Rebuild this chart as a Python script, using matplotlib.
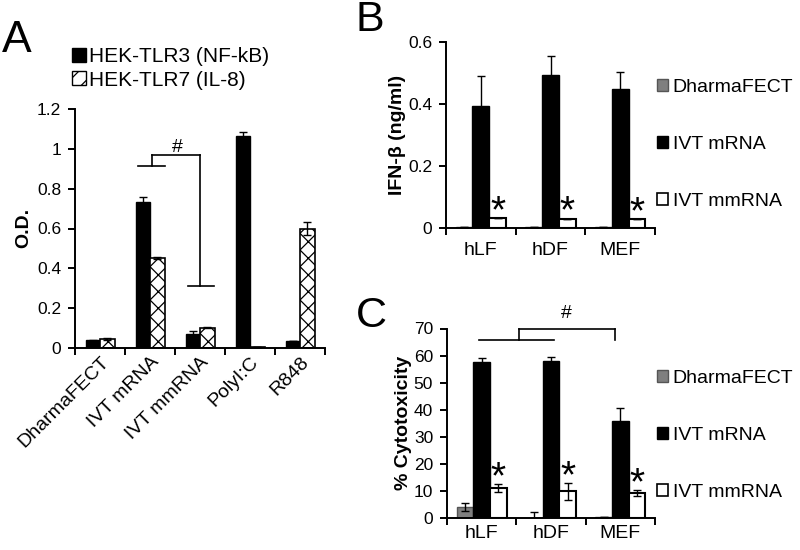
import matplotlib
matplotlib.use('Agg')
import matplotlib.pyplot as plt
import numpy as np
from matplotlib.patches import Patch

plt.rcParams['font.family'] = ['Liberation Sans', 'DejaVu Sans']
plt.rcParams['hatch.linewidth'] = 0.9

# ---------------- data ----------------
# Panel A
A_categories = ['DharmaFECT', 'IVT mRNA', 'IVT mmRNA', 'PolyI:C', 'R848']
A_series = ['HEK-TLR3 (NF-kB)', 'HEK-TLR7 (IL-8)']
A_tlr3 = [0.038, 0.735, 0.070, 1.065, 0.035]
A_tlr3_err = [0.003, 0.025, 0.013, 0.018, 0.002]
A_tlr7 = [0.045, 0.451, 0.102, 0.005, 0.600]
A_tlr7_err = [0.003, 0.004, 0.004, 0.0, 0.032]
A_yticks = [0, 0.2, 0.4, 0.6, 0.8, 1.0, 1.2]
A_yticklabels = ['0', '0.2', '0.4', '0.6', '0.8', '1', '1.2']

# Panels B and C
cells = ['hLF', 'hDF', 'MEF']
treatments = ['DharmaFECT', 'IVT mRNA', 'IVT mmRNA']

B_dharma = [0.002, 0.002, 0.002]
B_dharma_err = [0.0, 0.0, 0.0]
B_mrna = [0.393, 0.493, 0.450]
B_mrna_err = [0.097, 0.062, 0.052]
B_mmrna = [0.032, 0.030, 0.028]
B_mmrna_err = [0.0, 0.0, 0.0]
B_yticks = [0, 0.2, 0.4, 0.6]
B_yticklabels = ['0', '0.2', '0.4', '0.6']

C_dharma = [4.2, 0.0, 0.3]
C_dharma_err = [1.5, 2.1, 0.0]
C_mrna = [57.5, 58.0, 36.0]
C_mrna_err = [1.6, 1.5, 4.6]
C_mmrna = [11.0, 9.8, 9.1]
C_mmrna_err = [1.5, 3.0, 1.1]
C_yticks = [0, 10, 20, 30, 40, 50, 60, 70]
C_yticklabels = ['0', '10', '20', '30', '40', '50', '60', '70']

# ---------------- figure ----------------
W, H = 800, 550
fig = plt.figure(figsize=(8, 5.5), dpi=100)


def fx(px):
    return px / W


def fy(py):
    return 1 - py / H


def style_axes(ax, ncat, yticks, yticklabels, catlabels, rot=0, pad=12):
    for s in ['top', 'right']:
        ax.spines[s].set_visible(False)
    for s in ['left', 'bottom']:
        ax.spines[s].set_linewidth(1.4)
        ax.spines[s].set_color('black')
    ax.set_xlim(-0.5, ncat - 0.5)
    ax.set_xticks(np.arange(-0.5, ncat, 1.0))
    ax.set_xticklabels([])
    ax.set_xticks(np.arange(ncat), minor=True)
    if rot:
        ax.set_xticklabels(catlabels, minor=True, rotation=rot, ha='right',
                           va='top', rotation_mode='anchor', fontsize=14)
    else:
        ax.set_xticklabels(catlabels, minor=True, fontsize=14)
    ax.tick_params(axis='x', which='major', direction='out', length=5, width=1.4)
    ax.tick_params(axis='x', which='minor', length=0, pad=pad)
    ax.set_yticks(yticks)
    ax.set_yticklabels(yticklabels, fontsize=12.5)
    ax.tick_params(axis='y', direction='out', length=5, width=1.4, pad=5)


def star(ax, x, y, fs=28, off=13):
    ax.annotate('*', xy=(x, y), xytext=(0, off - 0.57 * fs),
                textcoords='offset points', ha='center', va='baseline',
                fontsize=fs, clip_on=False, annotation_clip=False)


# ---------------- Panel A ----------------
axA = fig.add_axes([fx(75), fy(348), fx(250), 239 / H])
x = np.arange(len(A_categories))
wA = 0.29
axA.bar(x - wA / 2, A_tlr3, wA, color='black', edgecolor='black', linewidth=1, zorder=2)
axA.bar(x + wA / 2, A_tlr7, wA, color='white', edgecolor='black', hatch='xx',
        linewidth=1.2, zorder=2)
axA.errorbar(x - wA / 2, A_tlr3, yerr=A_tlr3_err, fmt='none', ecolor='black',
             elinewidth=1, capsize=3, capthick=1, zorder=3)
axA.errorbar(x + wA / 2, A_tlr7, yerr=A_tlr7_err, fmt='none', ecolor='black',
             elinewidth=1, capsize=3, capthick=1, zorder=3)
axA.set_ylim(0, 1.2)
style_axes(axA, len(A_categories), A_yticks, A_yticklabels, A_categories, rot=45, pad=4)

# significance bracket (#)
lk = dict(color='black', lw=1.2, clip_on=False)
axA.plot([0.76, 1.30], [0.916, 0.916], **lk)
axA.plot([1.03, 1.03], [0.916, 0.969], **lk)
axA.plot([1.03, 2.00], [0.969, 0.969], **lk)
axA.plot([2.00, 2.00], [0.969, 0.309], **lk)
axA.plot([1.75, 2.27], [0.309, 0.309], **lk)
axA.text(1.55, 0.982, '#', ha='center', va='baseline', fontsize=14)

handlesA = [Patch(facecolor='black', edgecolor='black'),
            Patch(facecolor='white', edgecolor='black', hatch='//')]
axA.legend(handlesA, A_series, loc='upper left',
           bbox_to_anchor=(fx(72), fy(47)), bbox_transform=fig.transFigure,
           frameon=False, fontsize=15, handlelength=0.65, handleheight=0.65,
           handletextpad=0.15, labelspacing=0.22, borderpad=0, borderaxespad=0)
fig.text(fx(24), fy(228), 'O.D.', rotation=90, ha='center', va='center',
         fontsize=14, fontweight='bold')
fig.text(fx(17), fy(41), 'A', ha='center', va='center', fontsize=32)

# ---------------- Panels B, C ----------------
wB = 0.24
xc = np.arange(len(cells))
grey = '#7f7f7f'


def grouped(ax, d, de, m, me, mm, mme):
    ax.bar(xc - wB, d, wB, color=grey, edgecolor='#555555', linewidth=1, zorder=2)
    ax.bar(xc, m, wB, color='black', edgecolor='black', linewidth=1, zorder=2)
    ax.bar(xc + wB, mm, wB, color='white', edgecolor='black', linewidth=1.5, zorder=2)
    for xs, v, e in [(xc - wB, d, de), (xc, m, me), (xc + wB, mm, mme)]:
        ax.errorbar(xs, v, yerr=e, fmt='none', ecolor='black', elinewidth=1,
                    capsize=3, capthick=1, zorder=3)


def legend_bc(ax, top_px):
    hs = [Patch(facecolor=grey, edgecolor='#555555'),
          Patch(facecolor='black', edgecolor='black'),
          Patch(facecolor='white', edgecolor='black', linewidth=1.2)]
    ax.legend(hs, treatments, loc='upper left',
              bbox_to_anchor=(fx(657), fy(top_px)), bbox_transform=fig.transFigure,
              frameon=False, fontsize=14, handlelength=0.55, handleheight=0.55,
              handletextpad=0.25, labelspacing=2.05, borderpad=0, borderaxespad=0)


axB = fig.add_axes([fx(446), fy(228), fx(209), 186 / H])
grouped(axB, B_dharma, B_dharma_err, B_mrna, B_mrna_err, B_mmrna, B_mmrna_err)
axB.set_ylim(0, 0.6)
style_axes(axB, len(cells), B_yticks, B_yticklabels, cells, pad=10)
for i in range(len(cells)):
    star(axB, xc[i] + wB, B_mmrna[i] + B_mmrna_err[i])
legend_bc(axB, 79)
fig.text(fx(397), fy(135), 'IFN-β (ng/ml)', rotation=90, ha='center', va='center',
         fontsize=14, fontweight='bold')
fig.text(fx(370), fy(20), 'B', ha='center', va='center', fontsize=31)

axC = fig.add_axes([fx(447), fy(518), fx(208), 189.5 / H])
grouped(axC, C_dharma, C_dharma_err, C_mrna, C_mrna_err, C_mmrna, C_mmrna_err)
axC.set_ylim(0, 70)
style_axes(axC, len(cells), C_yticks, C_yticklabels, cells, pad=5)
for i in range(len(cells)):
    star(axC, xc[i] + wB, C_mmrna[i] + C_mmrna_err[i])
legend_bc(axC, 370)
fig.text(fx(403), fy(423), '% Cytotoxicity', rotation=90, ha='center', va='center',
         fontsize=14, fontweight='bold')
fig.text(fx(371), fy(316), 'C', ha='center', va='center', fontsize=31)

# significance bracket (#) in C
axC.plot([-0.04, 1.05], [65.6, 65.6], **lk)
axC.plot([0.54, 0.54], [65.6, 69.8], **lk)
axC.plot([0.54, 1.93], [69.8, 69.8], **lk)
axC.plot([1.93, 1.93], [69.8, 65.8], **lk)
axC.text(1.22, 74.0, '#', ha='center', va='baseline', fontsize=14, clip_on=False)

fig.savefig('out.png', dpi=100)
